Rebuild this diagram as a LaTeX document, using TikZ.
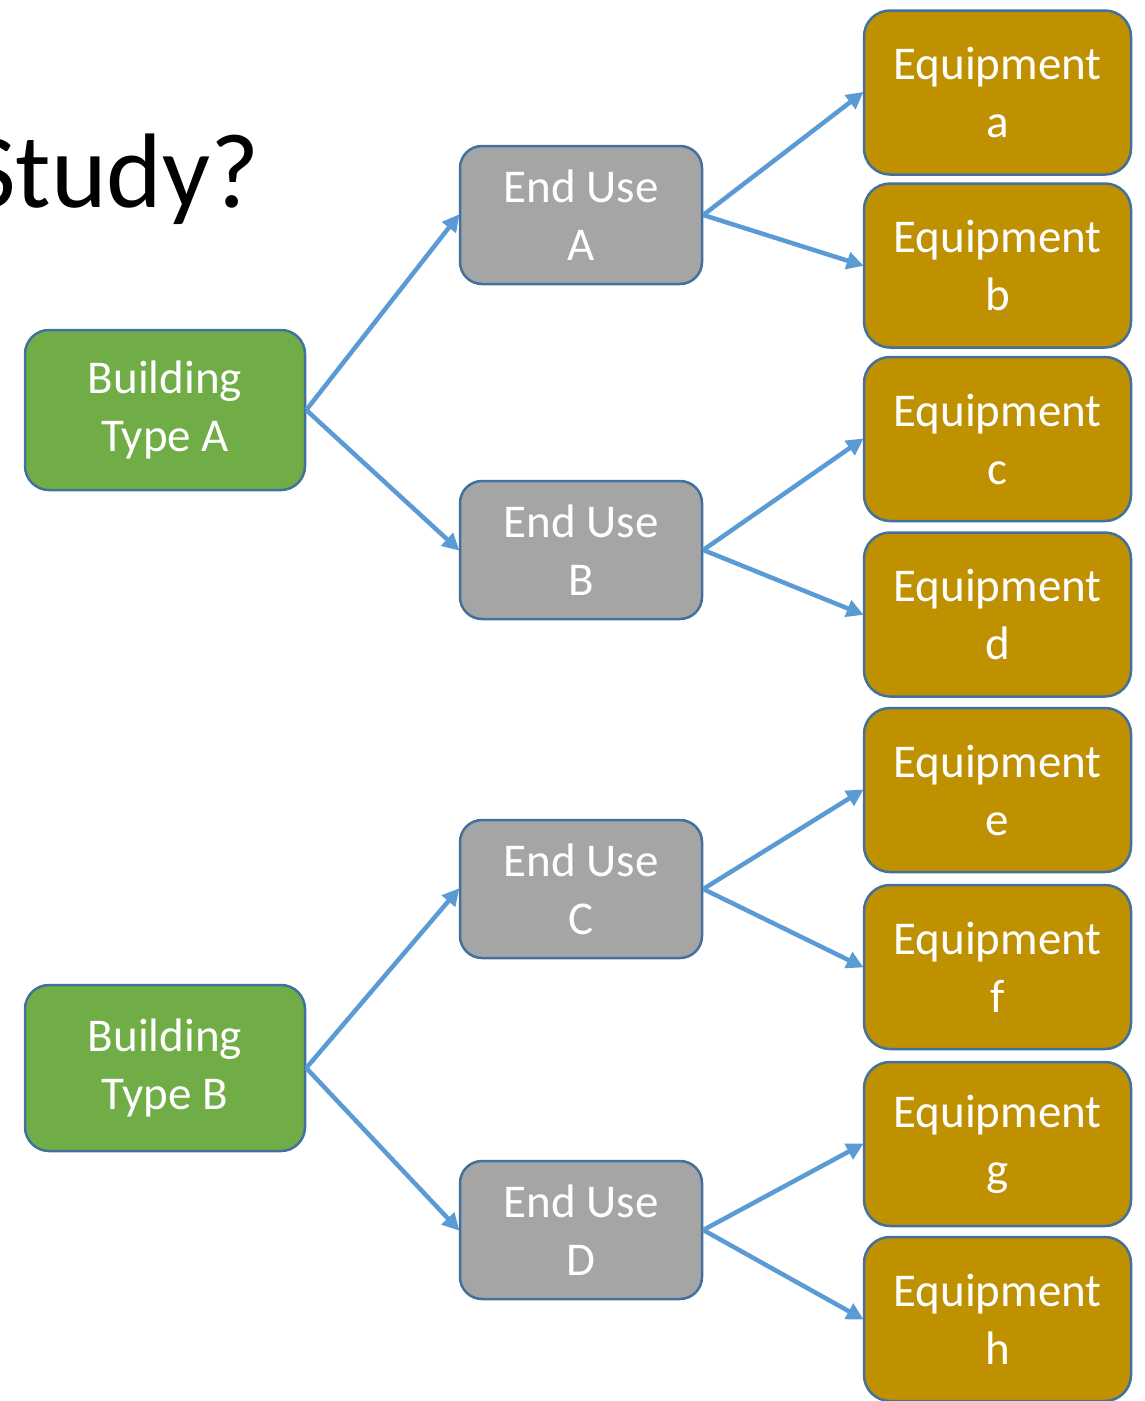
\documentclass[tikz,border=0pt]{standalone}
\usepackage{fontspec}
\setmainfont{Carlito}
\usetikzlibrary{arrows.meta}
\definecolor{bldg}{HTML}{70AD47}
\definecolor{enduse}{HTML}{A5A5A5}
\definecolor{equip}{HTML}{BF9000}
\definecolor{edge}{HTML}{41719C}
\definecolor{link}{HTML}{5B9BD5}
\tikzset{
  box/.style={draw=edge, line width=2.5pt, rounded corners=24pt, text=white,
    align=center, font=\fontsize{47}{58}\selectfont, inner sep=0pt},
  bldgbox/.style={box, fill=bldg, minimum width=280pt, minimum height=160pt},
  usebox/.style={box, fill=enduse, minimum width=242pt, minimum height=138pt, rounded corners=22pt},
  equipbox/.style={box, fill=equip, minimum width=267pt, minimum height=164pt, rounded corners=26pt},
  link/.style={draw=link, line width=4.5pt, -{Triangle[length=17pt,width=17pt]}, shorten >=-1pt}
}
\begin{document}
\begin{tikzpicture}[x=1pt,y=-1pt]
\useasboundingbox (0,0) rectangle (1145,1401);
\begin{scope}
\clip (0,0) rectangle (1145,1401);
\node[anchor=base east, font=\fontsize{106}{120}\selectfont, inner sep=0pt] (title) at (260,207) {Study?};
\end{scope}

\node[bldgbox] (bA) at (165,410) {Building\\Type A};
\node[bldgbox, minimum height=166pt] (bB) at (165,1068) {Building\\Type B};

\node[usebox] (uA) at (581,215) {End Use\\A};
\node[usebox] (uB) at (581,550) {End Use\\B};
\node[usebox] (uC) at (581,889) {End Use\\C};
\node[usebox] (uD) at (581,1230) {End Use\\D};

\node[equipbox] (ea) at (997.5,92.5) {Equipment\\a};
\node[equipbox] (eb) at (997.5,265.5) {Equipment\\b};
\node[equipbox] (ec) at (997.5,439) {Equipment\\c};
\node[equipbox] (ed) at (997.5,614.5) {Equipment\\d};
\node[equipbox] (ee) at (997.5,790) {Equipment\\e};
\node[equipbox] (ef) at (997.5,967) {Equipment\\f};
\node[equipbox] (eg) at (997.5,1144) {Equipment\\g};
\node[equipbox] (eh) at (997.5,1319) {Equipment\\h};

\draw[link] (bA.east) -- (uA.west);
\draw[link] (bA.east) -- (uB.west);
\draw[link] (bB.east) -- (uC.west);
\draw[link] (bB.east) -- (uD.west);

\draw[link] (uA.east) -- (ea.west);
\draw[link] (uA.east) -- (eb.west);
\draw[link] (uB.east) -- (ec.west);
\draw[link] (uB.east) -- (ed.west);
\draw[link] (uC.east) -- (ee.west);
\draw[link] (uC.east) -- (ef.west);
\draw[link] (uD.east) -- (eg.west);
\draw[link] (uD.east) -- (eh.west);
\end{tikzpicture}
\end{document}
